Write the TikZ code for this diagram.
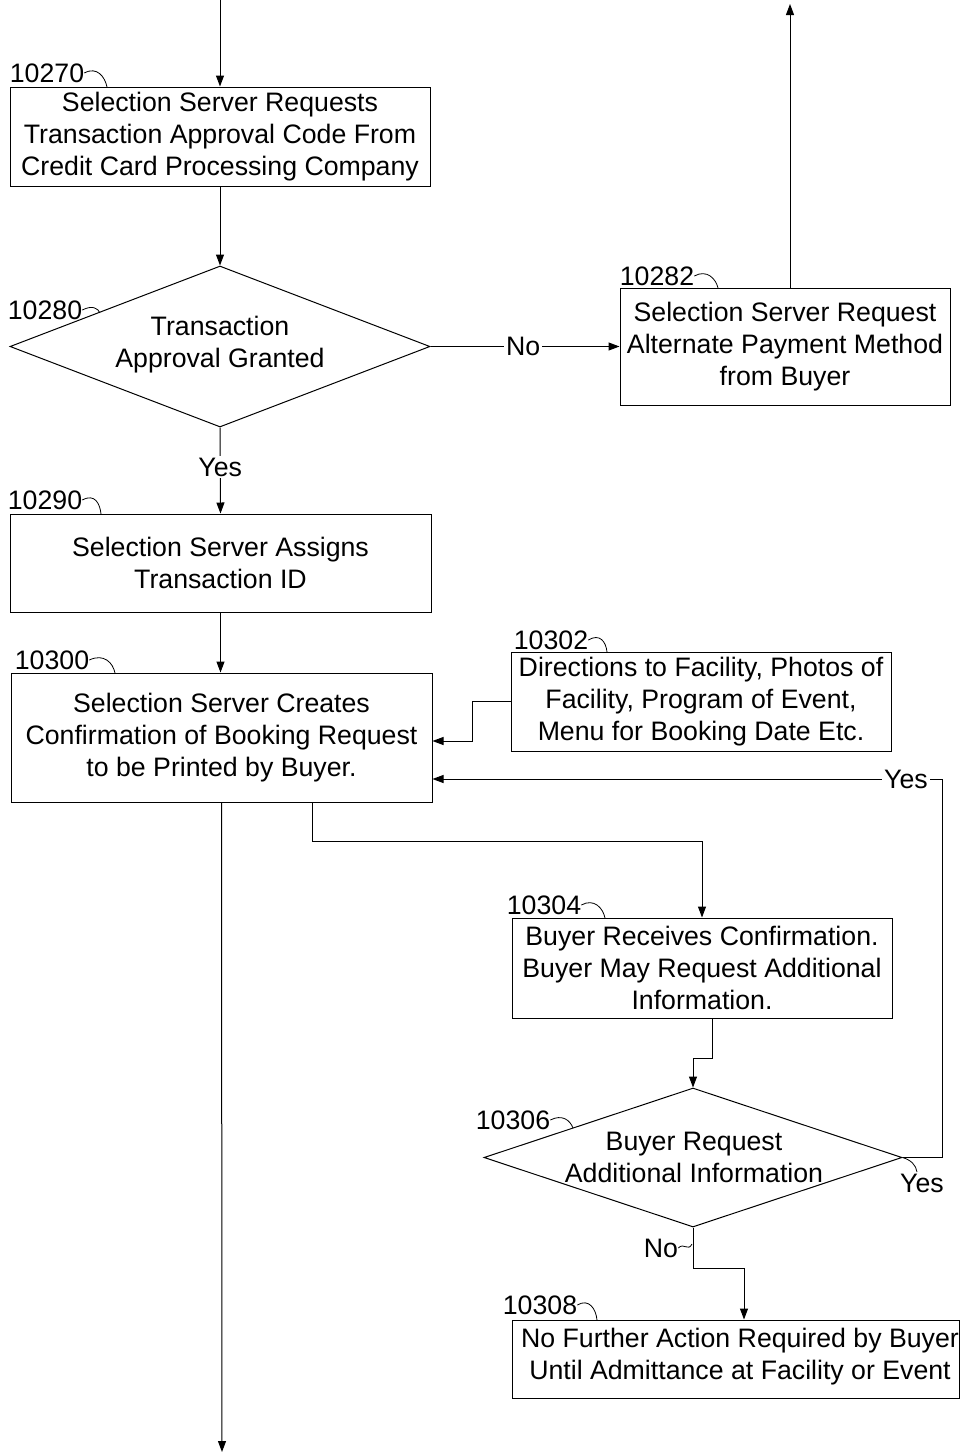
\documentclass[tikz,border=0pt]{standalone}
\usepackage{fontspec}
\setmainfont{Liberation Sans}
\usetikzlibrary{shapes.geometric,arrows.meta}
\newcommand\diagfont{\fontsize{26.7pt}{32pt}\selectfont}
\begin{document}
\begin{tikzpicture}[x=1pt,y=-1pt,
  box/.style={draw, line width=1pt, rectangle, inner sep=0pt, align=center, font=\diagfont},
  dia/.style={draw, line width=1pt, diamond, aspect=1, inner sep=0pt},
  txt/.style={align=center, font=\diagfont, inner sep=0pt},
  lab/.style={font=\diagfont, inner sep=0pt},
  conn/.style={line width=1pt},
  arr/.style={conn, -{Triangle[length=11pt,width=8pt]}},
  hook/.style={line width=0.8pt},
  cut/.style={font=\diagfont, fill=white, inner sep=2pt}
]
\useasboundingbox (0,0) rectangle (960,1454);

% nodes
\node[box, minimum width=420pt, minimum height=99pt] (b270) at (220,136.5)
  {Selection Server Requests\\Transaction Approval Code From\\Credit Card Processing Company};
\node[dia, minimum width=420pt, minimum height=161pt] (d280) at (220,346.5) {};
\node[txt] (t280) at (220,345) {Transaction\\Approval Granted};
\node[box, minimum width=330pt, minimum height=117pt] (b282) at (785,346.5)
  {Selection Server Request\\Alternate Payment Method\\from Buyer};
\node[box, minimum width=421pt, minimum height=98pt] (b290) at (220.5,563)
  {Selection Server Assigns\\Transaction ID};
\node[box, minimum width=421pt, minimum height=129pt] (b300) at (221.5,737.5)
  {Selection Server Creates\\Confirmation of Booking Request\\to be Printed by Buyer.};
\node[box, minimum width=380pt, minimum height=99pt] (b302) at (701,701.5)
  {Directions to Facility, Photos of\\Facility, Program of Event,\\Menu for Booking Date Etc.};
\node[box, minimum width=380pt, minimum height=100pt] (b304) at (702,968)
  {Buyer Receives Confirmation.\\Buyer May Request Additional\\Information.};
\node[dia, minimum width=418pt, minimum height=139pt] (d306) at (693,1157.5) {};
\node[txt] (t306) at (694,1157) {Buyer Request\\Additional Information};
\node[box, minimum width=447pt, minimum height=78pt] (b308) at (735.5,1359) {};
\node[txt] (t308) at (740,1357) {No Further Action Required by Buyer\\Until Admittance at Facility or Event};

% reference labels
\node[lab] (l270) at (47,73) {10270};
\draw[hook] (l270.east) .. controls (97,66) and (105,77) .. (107,87);
\node[lab] (l280) at (45,310) {10280};
\draw[hook] (l280.east) .. controls (92,305) and (98,308) .. (100,313);
\node[lab] (l282) at (657,276) {10282};
\draw[hook] (l282.east) .. controls (707,269) and (716,279) .. (718,288);
\node[lab] (l290) at (45,500) {10290};
\draw[hook] (l290.east) .. controls (95,493) and (100,504) .. (101,514);
\node[lab] (l300) at (52,660) {10300};
\draw[hook] (l300.east) .. controls (104,653) and (113,663) .. (115,673);
\node[lab] (l302) at (551,640) {10302};
\draw[hook] (l302.east) .. controls (600,633) and (606,642) .. (607,652);
\node[lab] (l304) at (544,905) {10304};
\draw[hook] (l304.east) .. controls (594,898) and (603,908) .. (605,918);
\node[lab] (l306) at (513,1120) {10306};
\draw[hook] (l306.east) .. controls (562,1114) and (570,1120) .. (573,1128);
\node[lab] (l308) at (540,1305) {10308};
\draw[hook] (l308.east) .. controls (589,1298) and (596,1309) .. (597,1320);

% connectors
\coordinate (in0) at (220,0);
\draw[arr] (in0) -- (b270.north);
\draw[arr] (b270.south) -- (d280.north);
\draw[arr] (d280.east) -- node[cut, pos=0.49] (no1) {No} (b282.west);
\coordinate (out0) at (790,4);
\draw[arr] ([xshift=5pt]b282.north) -- (out0);
\draw[arr] (d280.south) -- node[cut, pos=0.46] (yes1) {Yes} (b290.north);
\draw[arr] (b290.south) -- (b290.south |- b300.north);
\coordinate (j302) at (472,741);
\draw[arr] (b302.west) -| (j302) -- (j302 -| b300.east);
\draw[arr] ([xshift=90.5pt]b300.south) -- ++(0,39) -| (b304.north);
\draw[arr] ([xshift=10pt]b304.south) -- ++(0,40) -| (d306.north);
\coordinate (yl) at (942,779);
\draw[arr] (d306.east) -| (yl) -- (yl -| b300.east);
\node[cut] (yes2) at (906,779) {Yes};
\node[lab] (yes3) at (922,1183) {Yes};
\draw[hook] (d306.east) .. controls (911,1160) and (916,1165) .. (917,1172);
\draw[arr] (d306.south) -- ++(0,41) -| ([xshift=8.5pt]b308.north);
\node[lab] (no2) at (661,1248) {No};
\draw[hook] (no2.east) .. controls (684,1242) and (688,1252) .. (692,1244);
\coordinate (outb) at (222,1452);
\draw[arr] (b300.south) -- (outb);
\end{tikzpicture}
\end{document}
